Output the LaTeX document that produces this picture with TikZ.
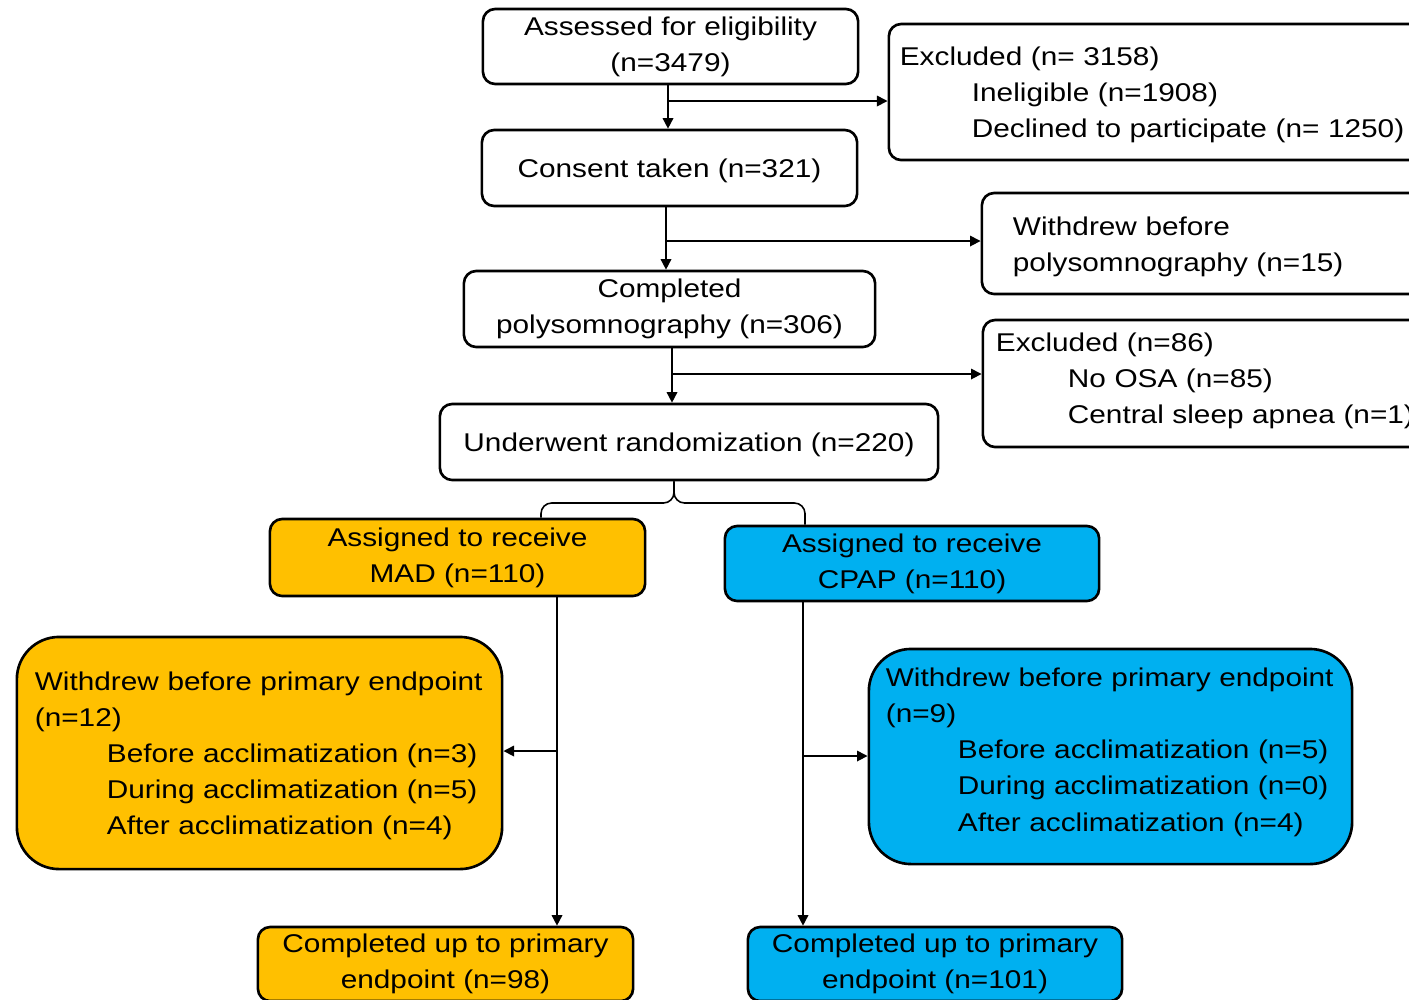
\documentclass[tikz,border=0pt]{standalone}
\usepackage{fontspec}
\setmainfont{Liberation Sans}[FakeStretch=1.16]
\usepackage{tikz}
\usepackage{xcolor}
\usetikzlibrary{arrows.meta}

\definecolor{madfill}{HTML}{FFC000}
\definecolor{cpapfill}{HTML}{00B0F0}

\tikzset{
  box/.style={draw=black, line width=0.75pt, rounded corners=3.5pt, fill=white,
    font=\fontsize{7.3pt}{10.24pt}\selectfont, inner sep=0pt,
    execute at begin node={\rule{0pt}{7pt}}},
  listbox/.style={box, align=left},
  link/.style={draw=black, line width=0.45pt},
  arr/.style={link, -{Triangle[length=3pt,width=3pt]}}
}

\begin{document}
\begin{tikzpicture}[x=0.01cm,y=-0.01cm]
\useasboundingbox (0,0) rectangle (1409,999);
\clip (0,0) rectangle (1409,999);
\fill[white] (0,0) rectangle (1409,999);

% screening
\node[box, align=center, minimum width=3.75cm, minimum height=0.75cm] (assess) at (670.5,46.5)
  {Assessed for eligibility\\(n=3479)};
\node[listbox, minimum width=5.36cm, minimum height=1.36cm, text width=5.14cm] (excl1) at (1157,92)
  {Excluded (n= 3158)\\\hspace*{0.72cm}Ineligible (n=1908)\\\hspace*{0.72cm}Declined to participate (n= 1250)};
\node[box, align=center, minimum width=3.75cm, minimum height=0.76cm] (consent) at (669.5,168)
  {Consent taken (n=321)};
\node[listbox, minimum width=4.43cm, minimum height=1.01cm, text width=3.81cm] (wdpsg) at (1203.5,243.5)
  {Withdrew before\\polysomnography (n=15)};
\node[box, align=center, minimum width=4.11cm, minimum height=0.76cm] (psg) at (669.5,309)
  {Completed\\polysomnography (n=306)};
\node[listbox, minimum width=4.42cm, minimum height=1.27cm, text width=4.16cm, align=left] (excl2) at (1204,383.5)
  {Excluded (n=86)\\\hspace*{0.72cm}No OSA (n=85)\\\hspace*{0.72cm}\rlap{Central sleep apnea (n=1)}\rule[-4.6pt]{0pt}{0pt}};
\node[box, align=center, minimum width=4.98cm, minimum height=0.76cm] (rand) at (689,442)
  {Underwent randomization (n=220)};

% arms
\node[box, fill=madfill, align=center, minimum width=3.75cm, minimum height=0.77cm] (mad) at (457.5,557.5)
  {Assigned to receive\\MAD (n=110)};
\node[box, fill=cpapfill, align=center, minimum width=3.74cm, minimum height=0.75cm] (cpap) at (912,563.5)
  {Assigned to receive\\CPAP (n=110)};
\node[listbox, fill=madfill, rounded corners=12pt, minimum width=4.85cm, minimum height=2.32cm, text width=4.49cm] (wdL) at (259.5,753)
  {Withdrew before primary endpoint\\(n=12)\\\hspace*{0.72cm}Before acclimatization (n=3)\\\hspace*{0.72cm}During acclimatization (n=5)\\\hspace*{0.72cm}After acclimatization (n=4)};
\node[listbox, fill=cpapfill, rounded corners=12pt, minimum width=4.83cm, minimum height=2.15cm, text width=4.49cm] (wdR) at (1110.5,756.5)
  {Withdrew before primary endpoint\\(n=9)\\\hspace*{0.72cm}Before acclimatization (n=5)\\\hspace*{0.72cm}During acclimatization (n=0)\\\hspace*{0.72cm}After acclimatization (n=4)\rule[-5.6pt]{0pt}{0pt}};
\node[box, fill=madfill, align=center, minimum width=3.75cm, minimum height=0.74cm] (doneL) at (445.5,964)
  {Completed up to primary\\endpoint (n=98)};
\node[box, fill=cpapfill, align=center, minimum width=3.74cm, minimum height=0.74cm] (doneR) at (935,964)
  {Completed up to primary\\endpoint (n=101)};

% connectors
\coordinate (j1) at (668,101);
\coordinate (j2) at (666,241);
\coordinate (j3) at (672,374);
\draw[arr] (j1 |- assess.south) -- (j1 |- consent.north);
\draw[arr] (j1) -- (j1 -| excl1.west);
\draw[arr] (j2 |- consent.south) -- (j2 |- psg.north);
\draw[arr] (j2) -- (j2 -| wdpsg.west);
\draw[arr] (j3 |- psg.south) -- (j3 |- rand.north);
\draw[arr] (j3) -- (j3 -| excl2.west);

\coordinate (fork) at (674,503);
\coordinate (forkL) at (541,503);
\coordinate (forkR) at (805,503);
\draw[link, rounded corners=3pt] (forkL |- mad.north) -- (forkL) -- (fork) -- (fork |- rand.south);
\draw[link, rounded corners=3pt] (forkR |- cpap.north) -- (forkR) -- (fork) -- (fork |- rand.south);

\coordinate (stemL) at (557,751);
\coordinate (stemR) at (803,756);
\draw[arr] (stemL |- mad.south) -- (stemL |- doneL.north);
\draw[arr] (stemL) -- (stemL -| wdL.east);
\draw[arr] (stemR |- cpap.south) -- (stemR |- doneR.north);
\draw[arr] (stemR) -- (stemR -| wdR.west);
\end{tikzpicture}
\end{document}
